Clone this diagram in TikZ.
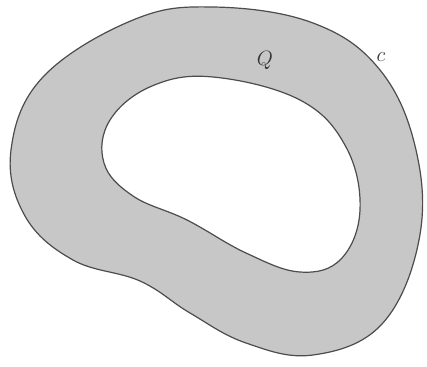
\documentclass[tikz,border=0pt]{standalone}
\begin{document}
\begin{tikzpicture}[x=1pt,y=-1pt,
  ring/.style={draw=black!70,line width=1.2pt,fill=black!22,even odd rule},
  lbl/.style={font=\fontsize{21}{24}\selectfont, text=black!80, inner sep=0pt}]
\useasboundingbox (0,0) rectangle (427,366);
\path[ring]
  plot[smooth cycle,tension=0.65] coordinates {(213,7) (313,23) (380,70) (416,150) (419,240) (382,324) (313,355) (246,343) (190,313) (140,281) (73,260) (25,216) (11,150) (43,77) (133,20)}
  plot[smooth cycle,tension=0.65] coordinates {(213,77) (300,100) (346,147) (360,210) (341,259) (300,272) (246,253) (187,220) (133,196) (104,163) (110,120) (152,86)};
\node[lbl] (Q) at (265,60) {$Q$};
\node[lbl] (c) at (381,57) {$c$};
\end{tikzpicture}
\end{document}
